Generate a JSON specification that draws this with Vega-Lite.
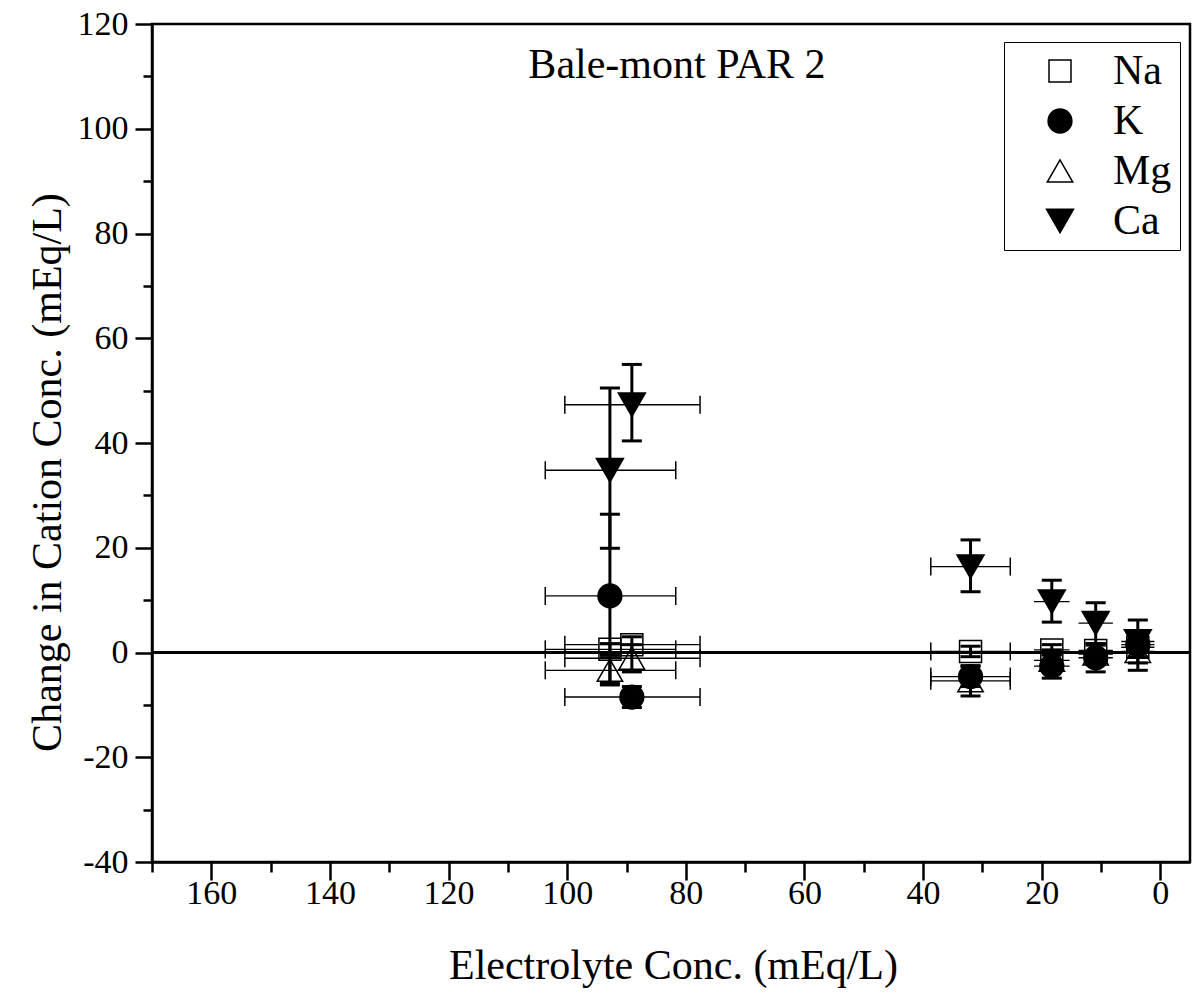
{
  "$schema": "https://vega.github.io/schema/vega-lite/v6.json",
  "width": 1038,
  "height": 838,
  "autosize": {"type": "none"},
  "padding": {"left": 152, "top": 24, "right": 3, "bottom": 131},
  "background": "white",
  "config": {
    "view": {"stroke": "black", "strokeWidth": 2.5},
    "axis": {"grid": false, "domainColor": "black", "domainWidth": 2.5, "tickColor": "black", "tickWidth": 2.5, "labelFont": "Liberation Serif", "labelFontSize": 34, "labelColor": "black", "titleFont": "Liberation Serif", "titleFontSize": 42, "titleFontWeight": "normal", "titleColor": "black", "labelOverlap": false, "labelFlush": false},
    "legend": {"title": null, "orient": "none", "legendX": 852, "legendY": 18, "padding": 8, "strokeColor": "black", "fillColor": "white", "labelFont": "Liberation Serif", "labelFontSize": 42, "labelColor": "black", "symbolOffset": 27, "labelOffset": 32, "rowPadding": 8, "labelLimit": 300, "symbolStrokeColor": "black", "symbolStrokeWidth": 1.5}
  },
  "data": {"values": [
    {"ion": "Na", "x": 92.8, "y": 0.6, "xlo": 81.7, "xhi": 103.7, "ylo": -0.5, "yhi": 1.7},
    {"ion": "K", "x": 92.8, "y": 10.8, "xlo": 81.7, "xhi": 103.7, "ylo": -6.2, "yhi": 26.4},
    {"ion": "Mg", "x": 92.8, "y": -3.4, "xlo": 81.7, "xhi": 103.7, "ylo": -5.8, "yhi": -1.0},
    {"ion": "Ca", "x": 92.8, "y": 34.8, "xlo": 81.7, "xhi": 103.7, "ylo": 19.9, "yhi": 50.5},
    {"ion": "Na", "x": 89.1, "y": 1.5, "xlo": 77.6, "xhi": 100.4, "ylo": 0.0, "yhi": 3.0},
    {"ion": "K", "x": 89.1, "y": -8.5, "xlo": 77.6, "xhi": 100.4, "ylo": -10.5, "yhi": -6.5},
    {"ion": "Mg", "x": 89.1, "y": -1.1, "xlo": 77.6, "xhi": 100.4, "ylo": -3.7, "yhi": 1.5},
    {"ion": "Ca", "x": 89.1, "y": 47.3, "xlo": 77.6, "xhi": 100.4, "ylo": 40.4, "yhi": 55.0},
    {"ion": "Na", "x": 32.0, "y": 0.2, "xlo": 25.3, "xhi": 38.7, "ylo": -0.8, "yhi": 1.2},
    {"ion": "K", "x": 32.0, "y": -4.6, "xlo": 25.3, "xhi": 38.7, "ylo": -6.5, "yhi": -2.7},
    {"ion": "Mg", "x": 32.0, "y": -5.4, "xlo": 25.3, "xhi": 38.7, "ylo": -8.3, "yhi": -2.5},
    {"ion": "Ca", "x": 32.0, "y": 16.4, "xlo": 25.3, "xhi": 38.7, "ylo": 11.6, "yhi": 21.5},
    {"ion": "Na", "x": 18.3, "y": 0.5, "xlo": 15.3, "xhi": 21.3, "ylo": -0.5, "yhi": 1.5},
    {"ion": "K", "x": 18.3, "y": -2.6, "xlo": 15.3, "xhi": 21.3, "ylo": -4.9, "yhi": -0.3},
    {"ion": "Mg", "x": 18.3, "y": -1.5, "xlo": 15.3, "xhi": 21.3, "ylo": -3.5, "yhi": 0.5},
    {"ion": "Ca", "x": 18.3, "y": 9.7, "xlo": 15.3, "xhi": 21.3, "ylo": 5.8, "yhi": 13.8},
    {"ion": "Na", "x": 10.9, "y": 0.4, "xlo": 8.0, "xhi": 13.8, "ylo": -0.6, "yhi": 1.4},
    {"ion": "K", "x": 10.9, "y": -1.0, "xlo": 8.0, "xhi": 13.8, "ylo": -3.7, "yhi": 1.7},
    {"ion": "Mg", "x": 10.9, "y": -0.3, "xlo": 8.0, "xhi": 13.8, "ylo": -2.3, "yhi": 1.7},
    {"ion": "Ca", "x": 10.9, "y": 5.6, "xlo": 8.0, "xhi": 13.8, "ylo": 1.7, "yhi": 9.5},
    {"ion": "Na", "x": 3.8, "y": 1.0, "xlo": 1.0, "xhi": 6.6, "ylo": 0.0, "yhi": 2.0},
    {"ion": "K", "x": 3.8, "y": 1.5, "xlo": 1.0, "xhi": 6.6, "ylo": -0.8, "yhi": 3.8},
    {"ion": "Mg", "x": 3.8, "y": 0.2, "xlo": 1.0, "xhi": 6.6, "ylo": -3.4, "yhi": 2.5},
    {"ion": "Ca", "x": 3.8, "y": 2.1, "xlo": 1.0, "xhi": 6.6, "ylo": -2.0, "yhi": 6.2}
  ]},
  "resolve": {"axis": {"x": "independent", "y": "independent"}},
  "layer": [
    {
      "mark": {"type": "rule", "color": "black", "strokeWidth": 2.5},
      "encoding": {
        "y": {"datum": 0, "type": "quantitative", "scale": {"domain": [-40, 120], "nice": false, "zero": false}, "axis": null}
      }
    },
    {
      "mark": {"type": "rule", "color": "black", "strokeWidth": 1.3},
      "encoding": {
        "x": {"field": "xlo", "type": "quantitative", "scale": {"domain": [-5, 170], "reverse": true, "nice": false, "zero": false},
              "axis": {"orient": "bottom", "values": [170, 150, 130, 110, 90, 70, 50, 30, 10], "labels": false, "domain": false, "tickSize": 10, "title": null}},
        "x2": {"field": "xhi"},
        "y": {"field": "y", "type": "quantitative", "scale": {"domain": [-40, 120], "nice": false, "zero": false},
              "axis": {"orient": "left", "values": [-30, -10, 10, 30, 50, 70, 90, 110], "labels": false, "domain": false, "tickSize": 9, "title": null}}
      }
    },
    {
      "transform": [{"filter": "datum.xhi - datum.xlo > 8"}],
      "mark": {"type": "tick", "orient": "vertical", "color": "black", "opacity": 1, "size": 18, "thickness": 1.5},
      "encoding": {
        "x": {"field": "xlo", "type": "quantitative", "scale": {"domain": [-5, 170], "reverse": true, "nice": false, "zero": false}, "axis": null},
        "y": {"field": "y", "type": "quantitative", "scale": {"domain": [-40, 120], "nice": false, "zero": false}, "axis": null}
      }
    },
    {
      "transform": [{"filter": "datum.xhi - datum.xlo > 8"}],
      "mark": {"type": "tick", "orient": "vertical", "color": "black", "opacity": 1, "size": 18, "thickness": 1.5},
      "encoding": {
        "x": {"field": "xhi", "type": "quantitative", "scale": {"domain": [-5, 170], "reverse": true, "nice": false, "zero": false}, "axis": null},
        "y": {"field": "y", "type": "quantitative", "scale": {"domain": [-40, 120], "nice": false, "zero": false}, "axis": null}
      }
    },
    {
      "mark": {"type": "rule", "color": "black", "strokeWidth": 3},
      "encoding": {
        "x": {"field": "x", "type": "quantitative", "scale": {"domain": [-5, 170], "reverse": true, "nice": false, "zero": false}, "axis": null},
        "y": {"field": "ylo", "type": "quantitative", "scale": {"domain": [-40, 120], "nice": false, "zero": false}, "axis": null},
        "y2": {"field": "yhi"}
      }
    },
    {
      "mark": {"type": "tick", "orient": "horizontal", "color": "black", "opacity": 1, "size": 20, "thickness": 3},
      "encoding": {
        "x": {"field": "x", "type": "quantitative", "scale": {"domain": [-5, 170], "reverse": true, "nice": false, "zero": false}, "axis": null},
        "y": {"field": "ylo", "type": "quantitative", "scale": {"domain": [-40, 120], "nice": false, "zero": false}, "axis": null}
      }
    },
    {
      "mark": {"type": "tick", "orient": "horizontal", "color": "black", "opacity": 1, "size": 20, "thickness": 3},
      "encoding": {
        "x": {"field": "x", "type": "quantitative", "scale": {"domain": [-5, 170], "reverse": true, "nice": false, "zero": false}, "axis": null},
        "y": {"field": "yhi", "type": "quantitative", "scale": {"domain": [-40, 120], "nice": false, "zero": false}, "axis": null}
      }
    },
    {
      "data": {"values": [{"label": "Bale-mont PAR 2"}]},
      "mark": {"type": "text", "font": "Liberation Serif", "fontSize": 42, "color": "black", "align": "center", "baseline": "alphabetic"},
      "encoding": {
        "x": {"datum": 81.5, "type": "quantitative", "scale": {"domain": [-5, 170], "reverse": true, "nice": false, "zero": false}, "axis": null},
        "y": {"datum": 109.7, "type": "quantitative", "scale": {"domain": [-40, 120], "nice": false, "zero": false}, "axis": null},
        "text": {"field": "label"}
      }
    },
    {
      "mark": {"type": "point", "filled": true, "strokeWidth": 1.5, "opacity": 1},
      "encoding": {
        "x": {"field": "x", "type": "quantitative", "scale": {"domain": [-5, 170], "reverse": true, "nice": false, "zero": false},
              "title": "Electrolyte Conc. (mEq/L)",
              "axis": {"orient": "bottom", "values": [160, 140, 120, 100, 80, 60, 40, 20, 0], "tickSize": 18, "labelPadding": -4, "titleX": 521, "titleY": 116, "titleBaseline": "alphabetic", "titleAlign": "center"}},
        "y": {"field": "y", "type": "quantitative", "scale": {"domain": [-40, 120], "nice": false, "zero": false},
              "title": "Change in Cation Conc. (mEq/L)",
              "axis": {"orient": "left", "values": [-40, -20, 0, 20, 40, 60, 80, 100, 120], "labelExpr": "'' + datum.value", "tickSize": 17, "labelPadding": 7, "titleX": -92, "titleY": 448, "titleAngle": -90, "titleBaseline": "alphabetic", "titleAlign": "center"}},
        "shape": {"field": "ion", "type": "nominal", "scale": {"domain": ["Na", "K", "Mg", "Ca"], "range": ["square", "circle", "triangle-up", "triangle-down"]}},
        "fill": {"field": "ion", "type": "nominal", "scale": {"domain": ["Na", "K", "Mg", "Ca"], "range": ["transparent", "black", "transparent", "black"]}},
        "stroke": {"field": "ion", "type": "nominal", "scale": {"domain": ["Na", "K", "Mg", "Ca"], "range": ["black", "black", "black", "black"]}},
        "size": {"field": "ion", "type": "nominal", "scale": {"domain": ["Na", "K", "Mg", "Ca"], "range": [484, 729, 1089, 1089]}}
      }
    }
  ]
}
